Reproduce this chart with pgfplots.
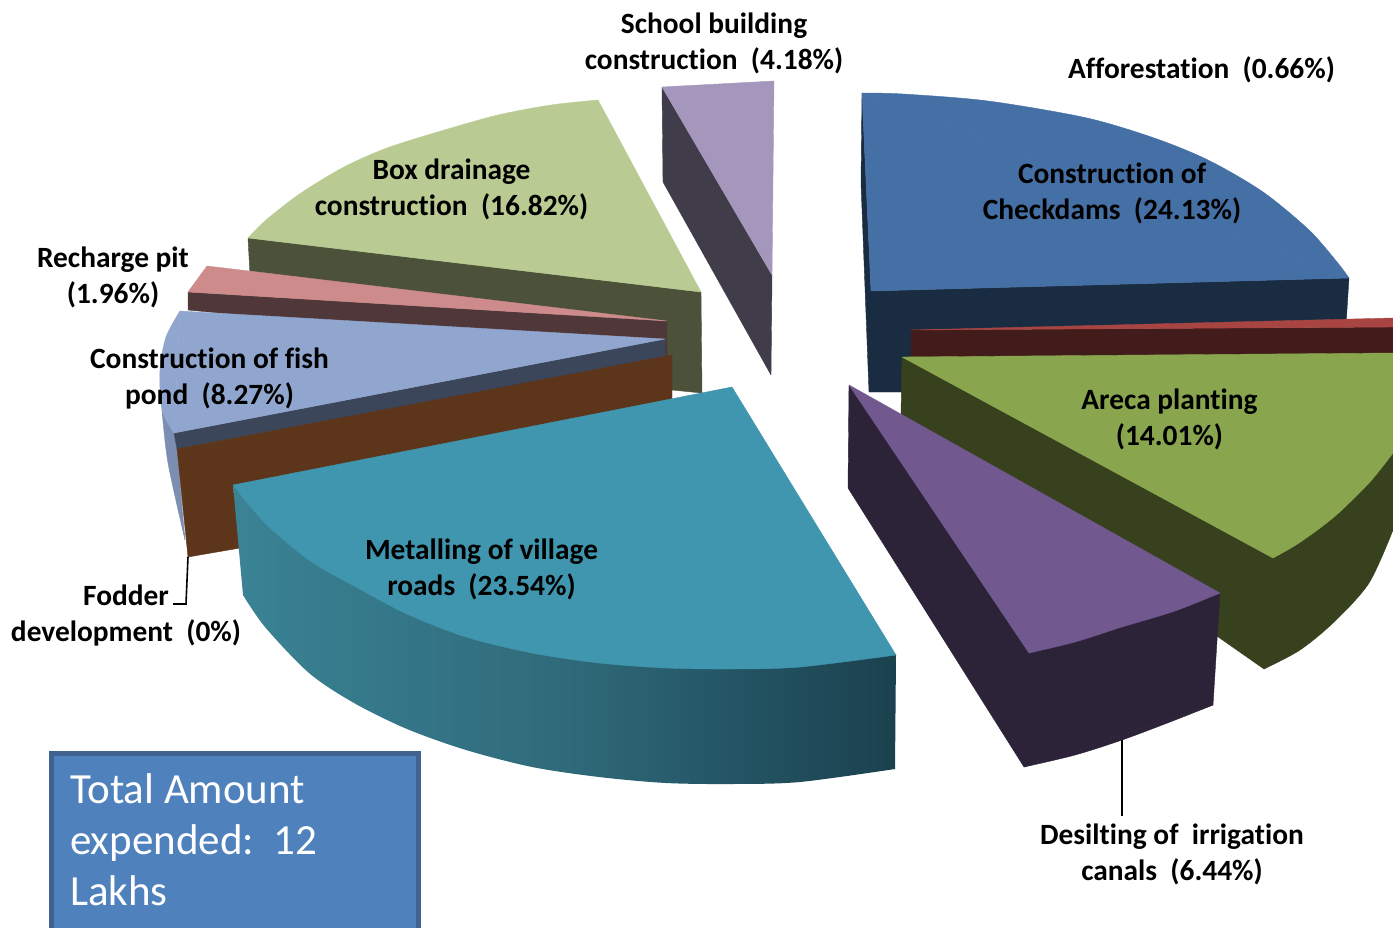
\documentclass[border=0pt]{standalone}
\usepackage{pgfplots}
\pgfplotsset{compat=1.18}
\usepackage{fontspec}
\setmainfont[Ligatures=NoCommon]{Carlito}
\definecolor{cBlue}{HTML}{4570A5}\definecolor{dBlue}{HTML}{1A2C42}
\definecolor{cRed}{HTML}{A84442}\definecolor{dRed}{HTML}{421C1A}
\definecolor{cGreen}{HTML}{89A54E}\definecolor{dGreen}{HTML}{38411D}
\definecolor{cPurple}{HTML}{71588F}\definecolor{dPurple}{HTML}{2C2338}
\definecolor{cTeal}{HTML}{4096AE}
\definecolor{cBrown}{HTML}{5C351A}
\definecolor{cFish}{HTML}{91A6CE}\definecolor{dFish}{HTML}{3B465A}\definecolor{sFish}{HTML}{7B8EB1}
\definecolor{cPink}{HTML}{CD8C8B}\definecolor{dPink}{HTML}{503739}
\definecolor{cBox}{HTML}{B9CB92}\definecolor{dBox}{HTML}{4B5239}
\definecolor{cSchool}{HTML}{A597BB}\definecolor{dSchool}{HTML}{403C4A}
\definecolor{boxFill}{HTML}{4F81BD}\definecolor{boxEdge}{HTML}{3F6290}
% outer wall of the largest front slice, lit from the left
\definecolor{wA}{RGB}{58,131,149}\definecolor{wB}{RGB}{52,119,136}
\definecolor{wC}{RGB}{48,106,122}\definecolor{wD}{RGB}{36,86,102}
\definecolor{wE}{RGB}{27,65,78}
\pgfdeclarehorizontalshading{wallshade}{100bp}{color(0bp)=(wA);color(25bp)=(wA);color(37bp)=(wB);color(50bp)=(wC);color(62bp)=(wD);color(75bp)=(wE);color(100bp)=(wE)}
\pgfplotsset{face/.style={draw=#1,fill=#1,line width=0.4pt,line join=round}}
\newcommand{\lab}[3]{\node[align=center,inner sep=0pt,text=black,font=\fontsize{29.4}{36}\selectfont\bfseries] at (axis cs:#1,#2) {#3};}
\begin{document}
\begin{tikzpicture}
\begin{axis}[hide axis,scale only axis,width=1393pt,height=927pt,
  xmin=0,xmax=1393,ymin=0,ymax=927,y dir=reverse]
% School building construction
\addplot[face=dSchool] coordinates {(662,87)(772,275)(771,375)(663,182)} --cycle;
\addplot[face=cSchool] coordinates {(662,87)(774,81)(772,275)} --cycle;
% Box drainage construction
\addplot[face=dBox] coordinates {(248,238)(250,275)(640,325)(640,380)(672,390)(702,393)(701,292)} --cycle;
\addplot[face=cBox] coordinates {(701,292)(248,238)(598,100)} --cycle;
\addplot[face=cBox,smooth] coordinates {(248,238)(266,220)(301,193)(344,167)(387,148)(441,131)(498,115)(551,105)(598,100)} --cycle;
% Construction of Checkdams
\addplot[face=dBlue] coordinates {(862,93)(861,183)(869,392)(902,392)(902,357)(911,357)(911,330)(1346,325)(1349,278)(871,291)} --cycle;
\addplot[face=cBlue] coordinates {(871,291)(862,93)(1349,278)} --cycle;
\addplot[face=cBlue,smooth] coordinates {(862,93)(903,94)(988,101)(1087,118)(1157,139)(1210,161)(1263,192)(1309,230)(1337,262)(1349,278)} --cycle;
% Afforestation
\addplot[face=dRed] coordinates {(911,330)(1393,327)(1393,356)(911,358)} --cycle;
\addplot[face=cRed] coordinates {(911,330)(1393,318)(1393,327)} --cycle;
% Areca planting
\addplot[face=dGreen] coordinates {(902,357)(901,415)(1264,669)(1393,530)(1393,453)(1273,558)} --cycle;
\addplot[face=dGreen,smooth] coordinates {(1264,669)(1300,650)(1334,622)(1369,583)(1393,530)} --cycle;
\addplot[face=cGreen] coordinates {(902,357)(1393,353)(1393,453)(1273,558)} --cycle;
\addplot[face=cGreen,smooth] coordinates {(1393,453)(1369,483)(1334,517)(1299,543)(1273,558)} --cycle;
% Recharge pit
\addplot[face=dPink] coordinates {(188,292)(667,321)(667,356)(188,310)} --cycle;
\addplot[face=cPink] coordinates {(207,266)(188,292)(667,321)} --cycle;
% Construction of fish pond
\addplot[face=sFish] coordinates {(162,410)(185,540)(177,449)(174,433)} --cycle;
\addplot[face=sFish,smooth] coordinates {(162,410)(168,463)(185,540)} --cycle;
\addplot[face=dFish] coordinates {(174,433)(665,339)(665,357)(177,449)} --cycle;
\addplot[face=cFish] coordinates {(665,339)(180,311)(174,433)} --cycle;
\addplot[face=cFish,smooth] coordinates {(180,311)(166,337)(160,370)(162,410)(174,433)} --cycle;
% Fodder development
\addplot[face=cBrown] coordinates {(672,355)(177,449)(188,557)(240,548)(672,420)} --cycle;
% Metalling of village roads: shaded outer wall, then the top
\addplot[shading=wallshade,draw=none,smooth] coordinates {(243,595)(265,627)(309,673)(354,703)(407,729)(466,750)(532,767)(599,777)(666,783)(733,784)(800,782)(895,769)} -- (axis cs:896,655) -- (axis cs:233,485) -- cycle;
\addplot[face=cTeal] coordinates {(732,387)(233,485)(896,655)} --cycle;
\addplot[face=cTeal,smooth] coordinates {(233,485)(265,523)(309,560)(354,586)(407,614)(466,637)(532,653)(599,663)(666,668)(733,669)(800,667)(896,655)} --cycle;
% Desilting of irrigation canals
\addplot[face=dPurple] coordinates {(849,385)(848,488)(1024,767)(1213,705)(1220,593)(1029,653)} --cycle;
\addplot[face=dPurple,smooth] coordinates {(1024,767)(1075,755)(1122,740)(1170,722)(1213,705)} --cycle;
\addplot[face=cPurple] coordinates {(849,385)(1220,593)(1029,653)} --cycle;
\addplot[face=cPurple,smooth] coordinates {(1220,593)(1175,611)(1122,627)(1075,642)(1029,653)} --cycle;
% Leader lines
\addplot[black,line width=1.6pt] coordinates {(188,557)(186,604)(173,604)};
\addplot[black,line width=1.6pt] coordinates {(1122,740)(1122,816)};
% Note box
\addplot[draw=boxEdge,fill=boxFill,line width=5pt] coordinates {(51,753)(418,753)(418,935)(51,935)} --cycle;
\node[anchor=north west,align=left,inner sep=0pt,text=white,font=\fontsize{43}{51}\selectfont] at (axis cs:70,773.5) {Total Amount\\expended:~~12\\Lakhs};
% Labels
\lab{714}{43.5}{School building\\construction~~(4.18\%)}
\lab{1201.5}{70}{Afforestation~~(0.66\%)}
\lab{1112}{193.5}{Construction of\\Checkdams~~(24.13\%)}
\lab{1169.5}{419.5}{Areca planting\\(14.01\%)}
\lab{481.5}{569.5}{Metalling of village\\roads~~(23.54\%)}
\lab{451.5}{189.5}{Box drainage\\construction~~(16.82\%)}
\lab{113}{277.5}{Recharge pit\\(1.96\%)}
\lab{209.5}{378.5}{Construction of fish\\pond~~(8.27\%)}
\lab{126}{615.5}{Fodder\\development~~(0\%)}
\lab{1172}{854.5}{Desilting of~~irrigation\\canals~~(6.44\%)}
\end{axis}
\pgfresetboundingbox
\path[use as bounding box] (0,0) rectangle (1393pt,927pt);
\end{tikzpicture}
\end{document}
